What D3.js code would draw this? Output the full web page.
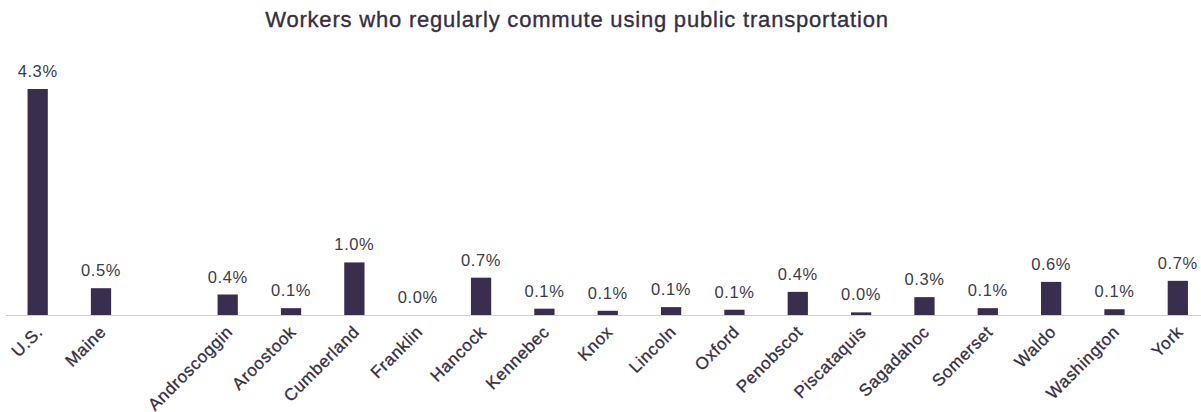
<!DOCTYPE html>
<html>
<head>
<meta charset="utf-8">
<script src="https://cdn.jsdelivr.net/npm/d3@7"></script>
<style>
  body { margin: 0; background: #fff; }
  text { font-family: Arial, "Liberation Sans", sans-serif; }
</style>
</head>
<body>
<script>
const width = 1201,
      height = 412,
      baseline = 315,
      top_ = 89;

// categories, with an empty slot between Maine and the counties
const places = ["U.S.", "Maine", "", "Androscoggin", "Aroostook", "Cumberland", "Franklin",
    "Hancock", "Kennebec", "Knox", "Lincoln", "Oxford", "Penobscot", "Piscataquis",
    "Sagadahoc", "Somerset", "Waldo", "Washington", "York"];
const shares = [4.3, 0.51, null, 0.39, 0.13, 1.0, 0.0, 0.71, 0.12, 0.08, 0.15, 0.1,
    0.44, 0.05, 0.34, 0.13, 0.63, 0.11, 0.65];
const valueLabels = ["4.3%", "0.5%", "", "0.4%", "0.1%", "1.0%", "0.0%", "0.7%", "0.1%",
    "0.1%", "0.1%", "0.1%", "0.4%", "0.0%", "0.3%", "0.1%", "0.6%", "0.1%", "0.7%"];

const points = places.map(function (p, i) {
    return {key: i, name: p, y: shares[i], label: valueLabels[i]};
});

let svg = d3.select("body")
    .append("svg")
    .attr("width", width)
    .attr("height", height);

let x = d3.scaleBand()
    .domain(points.map(function (d) { return d.key; }))
    .range([6, 1209.5])
    .paddingInner(0.68)
    .paddingOuter(0.34);
let y = d3.scaleLinear().domain([0, 4.3]).range([baseline, top_]);

let bars = points.filter(function (d) { return d.y !== null; });

svg.append("text")
    .attr("x", 577)
    .attr("y", 27)
    .attr("text-anchor", "middle")
    .style("font-size", "22px")
    .style("letter-spacing", "0.8px")
    .style("fill", "#352e42")
    .style("stroke", "#352e42")
    .style("stroke-width", 0.35)
    .text("Workers who regularly commute using public transportation");

svg.selectAll(".bar")
    .data(bars)
    .enter()
    .append("rect")
    .attr("class", "bar")
    .attr("x", function (d) { return x(d.key); })
    .attr("y", function (d) { return y(d.y); })
    .attr("width", x.bandwidth())
    .attr("height", function (d) { return baseline - y(d.y); })
    .style("fill", "#3a2e4e");

svg.append("line")
    .attr("x1", 6)
    .attr("x2", width)
    .attr("y1", baseline + 0.5)
    .attr("y2", baseline + 0.5)
    .style("stroke", "#cfcfd4")
    .style("stroke-width", 1.2);

svg.selectAll(".value")
    .data(bars)
    .enter()
    .append("text")
    .attr("class", "value")
    .attr("x", function (d) { return x(d.key) + x.bandwidth() / 2; })
    .attr("y", function (d) { return y(d.y) - 12; })
    .attr("text-anchor", "middle")
    .style("font-size", "16.5px")
    .style("letter-spacing", "0.6px")
    .style("fill", "#3c3b48")
    .text(function (d) { return d.label; });

svg.selectAll(".name")
    .data(bars)
    .enter()
    .append("text")
    .attr("class", "name")
    .attr("text-anchor", "end")
    .attr("transform", function (d) {
        return "translate(" + (x(d.key) + x.bandwidth() / 2 + 6) + "," + (baseline + 18) + ")rotate(-45)";
    })
    .style("font-size", "17px")
    .style("letter-spacing", "0.6px")
    .style("fill", "#352e42")
    .style("stroke", "#352e42")
    .style("stroke-width", 0.3)
    .text(function (d) { return d.name; });
</script>
</body>
</html>
